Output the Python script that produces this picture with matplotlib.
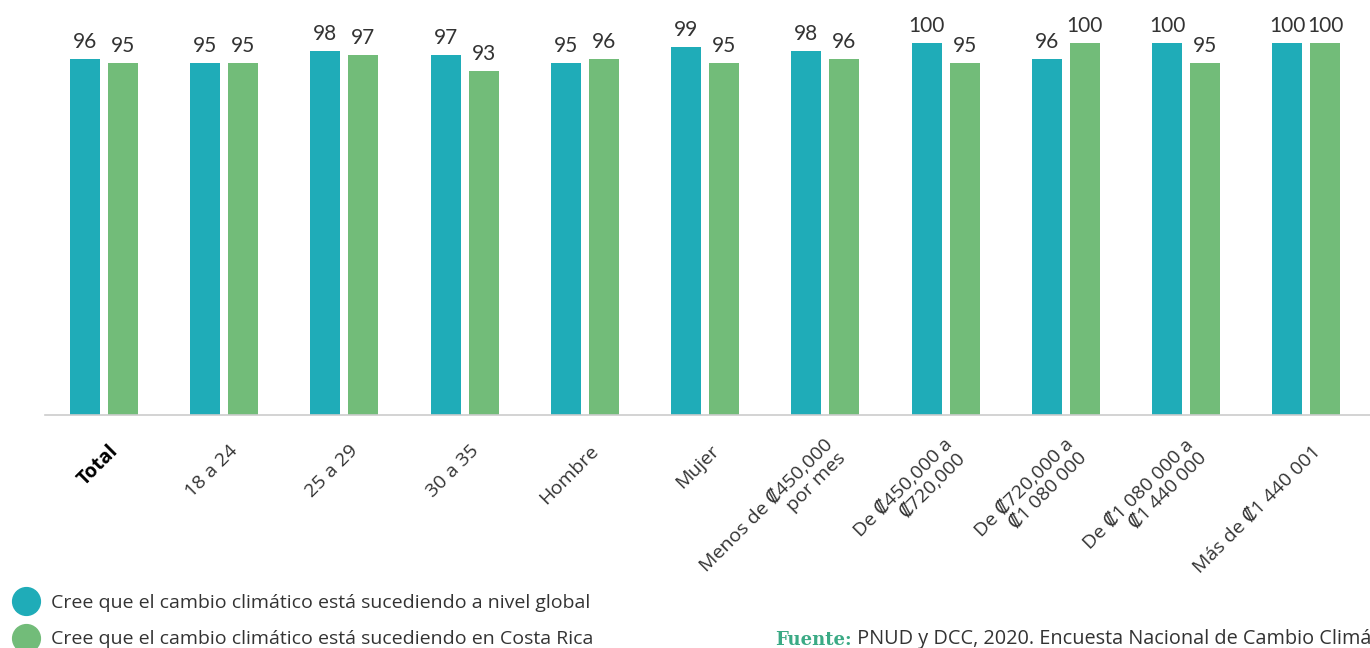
import matplotlib
matplotlib.use('Agg')
import matplotlib.pyplot as plt
from matplotlib.lines import Line2D
import numpy as np

plt.rcParams['font.family'] = ['Open Sans', 'DejaVu Sans']

categories = ['Total', '18 a 24', '25 a 29', '30 a 35', 'Hombre', 'Mujer',
              'Menos de ₡450,000\npor mes', 'De ₡450,000 a\n₡720,000',
              'De ₡720,000 a\n₡1 080 000', 'De ₡1 080 000 a\n₡1 440 000',
              'Más de ₡1 440 001']
global_vals = [96, 95, 98, 97, 95, 99, 98, 100, 96, 100, 100]
costa_rica_vals = [95, 95, 97, 93, 96, 95, 96, 95, 100, 95, 100]
series_names = ['Cree que el cambio climático está sucediendo a nivel global',
                'Cree que el cambio climático está sucediendo en Costa Rica']

blue = '#1FACB8'
green = '#72BC79'
txt = '#333333'

fig = plt.figure(figsize=(13.7, 6.48), dpi=100)
ax = fig.add_axes([45 / 1370, 1 - 415 / 648, 1 - 45 / 1370, 415 / 648])

x = np.arange(len(categories))
w = 0.25
off = 0.158
b1 = ax.bar(x - off, global_vals, w, color=blue)
b2 = ax.bar(x + off, costa_rica_vals, w, color=green)

for bars, vals in [(b1, global_vals), (b2, costa_rica_vals)]:
    for rect, v in zip(bars, vals):
        ax.annotate(str(v), (rect.get_x() + rect.get_width() / 2, rect.get_height()),
                    xytext=(0, 5), textcoords='offset points', ha='center', va='bottom',
                    fontsize=15, color=txt, family=['Lato'])

ax.set_xlim(-0.49, 10.53)
ax.set_ylim(7, 110.75)
for s in ['top', 'right', 'left']:
    ax.spines[s].set_visible(False)
ax.spines['bottom'].set_color('#cccccc')
ax.spines['bottom'].set_linewidth(1.2)
ax.set_yticks([])
ax.set_xticks([])

# rotated category labels, anchored by the middle of their right edge
for i, lab in enumerate(categories):
    bold = lab == 'Total'
    ax.annotate(lab, (i, 0), xycoords=('data', 'axes fraction'),
                xytext=(8, -24), textcoords='offset points',
                rotation=45, rotation_mode='anchor', ha='right', va='center',
                fontsize=14, color='black' if bold else txt,
                fontweight='bold' if bold else 'normal', linespacing=1.05)

handles = [Line2D([], [], marker='o', linestyle='none', markersize=20, color=blue),
           Line2D([], [], marker='o', linestyle='none', markersize=20, color=green)]
fig.legend(handles, series_names, loc='upper left', bbox_to_anchor=(16 / 1370, 1 - 594 / 648),
           frameon=False, fontsize=14, labelcolor=txt, handletextpad=0.8,
           labelspacing=0.95, borderaxespad=0, borderpad=0, handlelength=1.0)

t1 = fig.text(775 / 1370, 1 - 645 / 648, 'Fuente:', fontsize=13, color='#3BAA85',
              fontweight='bold', family=['DejaVu Serif'], va='baseline')
ax.annotate(' PNUD y DCC, 2020. Encuesta Nacional de Cambio Climático', (1, 0),
            xycoords=t1, va='bottom', ha='left', fontsize=14.3, color=txt,
            annotation_clip=False)

fig.savefig('out.png', dpi=100)
